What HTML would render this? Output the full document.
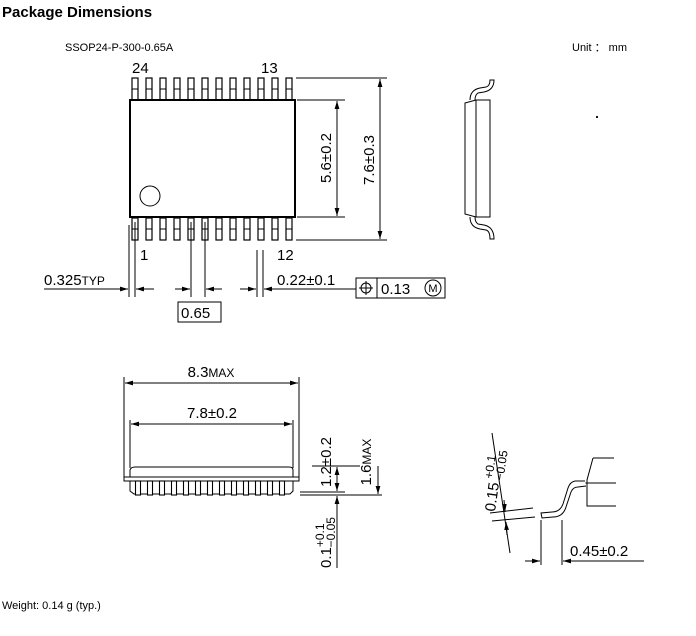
<!DOCTYPE html>
<html><head><meta charset="utf-8"><style>
body{margin:0;background:#fff;}
svg{display:block;font-family:"Liberation Sans",Arial,sans-serif;}
</style></head><body>
<svg width="696" height="636" viewBox="0 0 696 636" xmlns="http://www.w3.org/2000/svg">
<defs>
<marker id="a" viewBox="0 0 10 6" refX="10" refY="3" markerWidth="8" markerHeight="5" orient="auto-start-reverse"><path d="M0,0L10,3L0,6z" fill="#000"/></marker>
<g id="pin"><rect x="-3" y="0" width="6" height="22" fill="#fff" stroke="#000" stroke-width="1.2"/><line x1="-3" y1="11" x2="3" y2="11" stroke="#000"/></g>
<g id="lp"><rect x="-2.5" y="0" width="5" height="14" fill="#fff" stroke="#000" stroke-width="1.1"/></g>
</defs>
<text x="2" y="17" font-size="15" font-weight="bold">Package Dimensions</text>
<text x="65" y="51" font-size="11">SSOP24-P-300-0.65A</text>
<text x="572" y="51" font-size="11">Unit ： mm</text>
<text x="2" y="609" font-size="11">Weight: 0.14 g (typ.)</text>

<g stroke="#000" fill="none" stroke-width="1">
<g>
<use href="#pin" x="135" y="78"/><use href="#pin" x="149" y="78"/><use href="#pin" x="163" y="78"/><use href="#pin" x="177" y="78"/><use href="#pin" x="191" y="78"/><use href="#pin" x="205" y="78"/><use href="#pin" x="219" y="78"/><use href="#pin" x="233" y="78"/><use href="#pin" x="247" y="78"/><use href="#pin" x="261" y="78"/><use href="#pin" x="275" y="78"/><use href="#pin" x="289" y="78"/>
<use href="#pin" x="135" y="218"/><use href="#pin" x="149" y="218"/><use href="#pin" x="163" y="218"/><use href="#pin" x="177" y="218"/><use href="#pin" x="191" y="218"/><use href="#pin" x="205" y="218"/><use href="#pin" x="219" y="218"/><use href="#pin" x="233" y="218"/><use href="#pin" x="247" y="218"/><use href="#pin" x="261" y="218"/><use href="#pin" x="275" y="218"/><use href="#pin" x="289" y="218"/>
</g>
<rect x="130" y="100" width="165" height="117" fill="#fff" stroke-width="2"/>
<circle cx="150" cy="196" r="10"/>
<line x1="297" y1="100" x2="345" y2="100"/><line x1="297" y1="217" x2="345" y2="217"/>
<line x1="337" y1="101" x2="337" y2="216" marker-start="url(#a)" marker-end="url(#a)"/>
<line x1="296" y1="78" x2="387" y2="78"/><line x1="296" y1="240" x2="387" y2="240"/>
<line x1="380" y1="79" x2="380" y2="239" marker-start="url(#a)" marker-end="url(#a)"/>
<line x1="129" y1="225" x2="129" y2="297"/><line x1="135" y1="222" x2="135" y2="297"/>
<line x1="44" y1="289" x2="128" y2="289" marker-end="url(#a)"/><line x1="154" y1="289" x2="136" y2="289" marker-end="url(#a)"/>
<line x1="191" y1="222" x2="191" y2="297"/><line x1="205" y1="222" x2="205" y2="297"/>
<line x1="175" y1="289" x2="190" y2="289" marker-end="url(#a)"/><line x1="222" y1="289" x2="206" y2="289" marker-end="url(#a)"/>
<line x1="257" y1="250" x2="257" y2="297"/><line x1="263" y1="250" x2="263" y2="297"/>
<line x1="240" y1="289" x2="256" y2="289" marker-end="url(#a)"/><line x1="356" y1="289" x2="264" y2="289" marker-end="url(#a)"/>
<rect x="178" y="302" width="43" height="20"/>
<rect x="356" y="278" width="89" height="20"/><line x1="377" y1="278" x2="377" y2="298"/>
<circle cx="366" cy="288" r="5"/><line x1="366" y1="281" x2="366" y2="295"/><line x1="359" y1="288" x2="373" y2="288"/>
<circle cx="433" cy="288" r="8"/>

<path d="M470,100 Q470,90 480,88 L486,87 Q490,86 490,80 L494,80 Q494,90 484,92 L478,93 Q475,95 475,100" fill="#fff"/>
<path d="M470,217 Q470,227 480,229 L486,230 Q490,231 490,239 L494,239 Q494,227 484,225 L478,224 Q475,222 475,217" fill="#fff"/>
<path d="M465,103 L476,100 L490,100 L490,217 L476,217 L465,214 Z" fill="#fff"/>
<line x1="476" y1="100" x2="476" y2="217"/>
<circle cx="597" cy="117" r="0.6" fill="#000"/>

<line x1="124" y1="377" x2="124" y2="478"/><line x1="299" y1="377" x2="299" y2="478"/>
<line x1="125" y1="383" x2="298" y2="383" marker-start="url(#a)" marker-end="url(#a)"/>
<line x1="130" y1="420" x2="130" y2="468"/><line x1="293" y1="420" x2="293" y2="468"/>
<line x1="131" y1="424" x2="292" y2="424" marker-start="url(#a)" marker-end="url(#a)"/>
<path d="M130,477 L130,470 Q131,467 135,467 L289,467 Q293,467 293,470 L293,477" fill="#fff"/>
<rect x="124" y="477" width="175" height="4" fill="#fff"/>
<path d="M130,481 L130,491 L134,494 L290,494 L293,491 L293,481"/>
<g>
<use href="#lp" x="138" y="481"/><use href="#lp" x="150" y="481"/><use href="#lp" x="162" y="481"/><use href="#lp" x="174" y="481"/><use href="#lp" x="186" y="481"/><use href="#lp" x="198" y="481"/><use href="#lp" x="210" y="481"/><use href="#lp" x="222" y="481"/><use href="#lp" x="234" y="481"/><use href="#lp" x="246" y="481"/><use href="#lp" x="258" y="481"/><use href="#lp" x="270" y="481"/><use href="#lp" x="282" y="481"/>
</g>
<line x1="312" y1="466" x2="360" y2="466"/><line x1="300" y1="492" x2="345" y2="492"/><line x1="300" y1="495" x2="382" y2="495"/>
<line x1="337" y1="467" x2="337" y2="491" marker-start="url(#a)" marker-end="url(#a)"/>
<line x1="337" y1="496" x2="337" y2="568" marker-start="url(#a)"/>
<line x1="378" y1="466" x2="378" y2="494" marker-end="url(#a)"/>

<line x1="492" y1="433" x2="510" y2="553"/>
<line x1="490" y1="513" x2="533" y2="508"/><line x1="492" y1="521" x2="535" y2="517"/>
<line x1="504" y1="500" x2="505" y2="512" marker-end="url(#a)"/><line x1="507" y1="535" x2="506" y2="522" marker-end="url(#a)"/>
<path d="M593,458 L614,458 M593,458 L587,480 L587,506 L616,506 M585,483 L616,483"/>
<path d="M585,481 L575,481 Q570,482 568,488 L563,504 Q560,512 552,512 L541,513 L542,518 L553,517 Q563,517 566,507 L571,492 Q573,487 578,487 L586,486" fill="#fff"/>
<line x1="541" y1="520" x2="541" y2="565"/><line x1="562" y1="520" x2="562" y2="565"/>
<line x1="525" y1="561" x2="540" y2="561" marker-end="url(#a)"/><line x1="644" y1="561" x2="563" y2="561" marker-end="url(#a)"/>
</g>

<g font-size="15" fill="#000">
<text x="132" y="73">24</text><text x="261" y="73">13</text>
<text x="140" y="260">1</text><text x="277" y="260">12</text>
<text x="44" y="285">0.325<tspan font-size="12">TYP</tspan></text>
<text x="277" y="285">0.22±0.1</text>
<text x="181" y="318">0.65</text>
<text x="381" y="294">0.13</text>
<text x="433" y="292" font-size="11" text-anchor="middle">M</text>
<text transform="translate(331,158) rotate(-90)" text-anchor="middle">5.6±0.2</text>
<text transform="translate(374,160) rotate(-90)" text-anchor="middle">7.6±0.3</text>
<text x="211" y="377" text-anchor="middle">8.3<tspan font-size="12">MAX</tspan></text>
<text x="212" y="418" text-anchor="middle">7.8±0.2</text>
<text transform="translate(331,462) rotate(-90)" text-anchor="middle">1.2±0.2</text>
<text transform="translate(371,462) rotate(-90)" text-anchor="middle">1.6<tspan font-size="12">MAX</tspan></text>
<text transform="translate(331,568) rotate(-90)">0.1<tspan font-size="12" dy="-7">+0.1</tspan><tspan font-size="12" dx="-24" dy="11">−0.05</tspan></text>
<text transform="translate(495,512) rotate(-82)">0.15<tspan font-size="12" dx="3" dy="-7">+0.1</tspan><tspan font-size="12" dx="-24" dy="11">−0.05</tspan></text>
<text x="570" y="556">0.45±0.2</text>
</g>
</svg>
</body></html>
